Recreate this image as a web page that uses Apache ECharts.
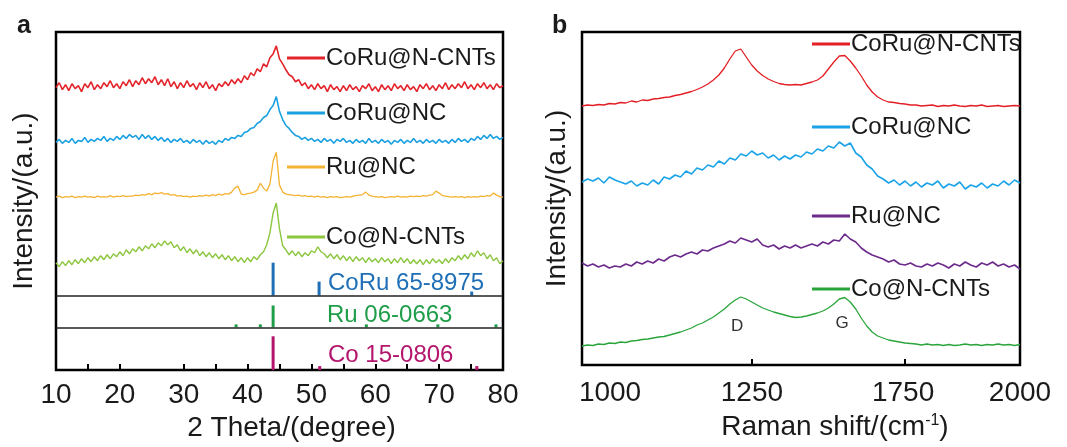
<!DOCTYPE html>
<html>
<head>
<meta charset="utf-8">
<script src="https://cdn.jsdelivr.net/npm/echarts@6/dist/echarts.min.js"></script>
<style>
html,body{margin:0;padding:0;background:#fff;}
#chart{width:1067px;height:447px;}
</style>
</head>
<body>
<div id="chart"></div>
<script>
// ---- panel a : XRD ----
var thetaA = [10,10.5,11,11.5,12,12.5,13,13.5,14,14.5,15,15.5,16,16.5,17,17.5,18,18.5,19,19.5,
	20,20.5,21,21.5,22,22.5,23,23.5,24,24.5,25,25.5,26,26.5,27,27.5,28,28.5,29,29.5,
	30,30.5,31,31.5,32,32.5,33,33.5,34,34.5,35,35.5,36,36.5,37,37.5,38,38.5,39,39.5,
	40,40.5,41,41.5,42,42.5,43,43.5,44,44.5,45,45.5,46,46.5,47,47.5,48,48.5,49,49.5,
	50,50.5,51,51.5,52,52.5,53,53.5,54,54.5,55,55.5,56,56.5,57,57.5,58,58.5,59,59.5,
	60,60.5,61,61.5,62,62.5,63,63.5,64,64.5,65,65.5,66,66.5,67,67.5,68,68.5,69,69.5,
	70,70.5,71,71.5,72,72.5,73,73.5,74,74.5,75,75.5,76,76.5,77,77.5,78,78.5,79,79.5,80];
var xrdCoRuNCNTs = [284,289,282,287,281,288,283,286,280,288, 284,290,282,287,283,289,285,291,284,288,
	283,290,286,292,285,291,287,294,288,293, 289,295,287,292,286,293,285,290,283,289,
	284,291,285,288,282,289,284,290,283,287, 281,288,285,290,286,292,288,293,289,296,
	292,299,296,303,300,308,305,314,318,326, 313,308,302,297,295,290,292,286,289,283,
	287,282,288,283,286,280,287,282,285,280, 286,281,287,282,285,280,286,283,288,281,
	285,280,287,282,286,281,288,283,286,281, 287,282,285,280,287,283,288,282,286,281,
	287,283,289,282,287,283,288,284,290,283, 287,282,288,284,289,283,287,282,288,284, 286];
var xrdCoRuNC = [229,232,228,231,229,233,228,231,230,234, 229,232,230,233,231,235,230,233,231,235,
	232,236,233,237,234,236,232,237,233,236, 232,235,231,234,230,233,229,232,230,233,
	229,231,228,232,229,231,227,231,228,230, 227,231,229,233,231,234,233,236,235,239,
	240,243,244,248,250,254,256,262,266,275, 260,252,246,243,239,236,235,232,234,231,
	233,230,232,229,233,230,232,228,232,230, 233,229,231,228,232,229,231,228,233,229,
	231,228,232,229,231,227,231,229,232,228, 231,229,233,229,231,228,232,229,231,228,
	232,229,231,228,232,229,233,230,232,229, 233,231,235,232,236,233,237,233,235,232, 234];
var xrdRuNC = [174,175,173.5,174.5,174,175,173.5,174.5,174,175, 174,174.5,173.5,175,174,174.5,174,175.5,174,175,
	174.5,175.5,174.5,175,175,176,175.5,176.5,176,177.5, 176.5,178,177.5,178.5,177,177.5,176,176.5,175,175.5,
	174.5,175,174,175,174.5,175.5,175,176,175,176.5, 175.5,177,176,177.5,177,179,183,185,177,176.5,
	177.5,178,179,181,188,183,180,187,210,219, 186,179,177,176.5,176,175.5,176,175,175.5,174.5,
	175,174,175,174,174.5,173.5,174.5,174,174.5,173.5, 174,174.5,174,175,175.5,176,176.5,179,176,175,
	174.5,174,174.5,173.5,174,174.5,174,175,174,174.5, 174,175,174.5,175,174.5,175.5,175,176,176.5,180,
	178,175.5,175,174.5,174,174.5,174,174.5,173.5,174.5, 174,174.5,174,175,174.5,175.5,175,178,176,174.5, 174];
var xrdCoNCNTs = [108,104,109,105,110,106,111,107,112,108, 113,109,114,110,115,111,116,112,117,114,
	119,115,121,117,122,119,124,120,125,122, 127,123,128,125,130,126,129,123,126,120,
	124,118,122,117,121,115,119,114,118,113, 117,112,116,111,115,110,114,109,113,108,
	113,109,114,111,116,119,126,138,158,168, 142,125,121,116,120,115,119,114,118,115,
	120,118,124,119,117,113,117,112,116,111, 115,110,114,109,114,110,113,108,113,109,
	112,108,113,109,112,107,112,108,113,108, 112,107,111,107,111,106,111,107,112,108,
	111,107,112,108,113,110,115,111,116,112, 118,114,120,115,118,112,116,110,113,107, 110];

// 标准卡片 (position, height)
var cardCoRuPos = [44.0, 51.2, 75.1];
var cardCoRuHeight = [33, 14, 4];
var cardRuPos = [38.2, 42.0, 44.0, 58.6, 69.8, 78.9];
var cardRuHeight = [3, 3, 22, 3, 3, 3];
var cardCoPos = [44.0, 51.3, 75.9];
var cardCoHeight = [34, 4, 4];
var cardBase = [75, 43, 0];
var cardNames = ['CoRu 65-8975', 'Ru 06-0663', 'Co 15-0806'];
var tickTheta = [15, 20, 30, 35, 40, 45, 50, 55, 60, 65, 70, 75];

// ---- panel b : Raman ----
var shiftB = [1000,1012.5,1025,1037.5,1050,1062.5,1075,1087.5,1100,1112.5,
	1125,1137.5,1150,1162.5,1175,1187.5,1200,1212.5,1225,1237.5,
	1250,1262.5,1275,1287.5,1300,1312.5,1325,1337.5,1350,1362.5,
	1375,1387.5,1400,1412.5,1425,1437.5,1450,1462.5,1475,1487.5,
	1500,1512.5,1525,1537.5,1550,1562.5,1575,1587.5,1600,1612.5,
	1625,1637.5,1650,1662.5,1675,1687.5,1700,1712.5,1725,1737.5,
	1750,1762.5,1775,1787.5,1800,1812.5,1825,1837.5,1850,1862.5,
	1875,1887.5,1900,1912.5,1925,1937.5,1950,1962.5,1975,1987.5,2000];
var ramanCoRuNCNTs = [259,260,259.5,260.5,260,261.5,261,262.5,262,264,
	263,265,264.5,266,266.5,267.5,268,269.5,270.5,272,
	273.5,275.5,278,281,285,290,297,306,314,316,
	308,300,294,289.5,286,283.5,281.5,280.5,280,280.5,
	280,281.5,283,285,289,296,303,309,309.5,304,
	297,289,280,273,268,265,263,262.5,261.5,261,
	260,260,259,259.5,260,258.5,259.5,259,260,259,
	258.5,259.5,259,260,258.5,259,259.5,258.5,259,259.5, 259];
var ramanCoRuNC = [183,186,184,187,182,188,185,183,181,184,
	179,182,180,185,181,188,186,190,188,194,
	191,197,195,200,198,204,201,207,205,211,
	209,214,210,212,207,210,205,209,206,210,
	208,213,211,216,214,219,217,223,219,222,
	212,208,200,196,189,186,182,185,180,184,
	179,183,178,182,180,184,177,181,179,183,
	176,180,178,182,177,181,179,184,180,185, 182];
var ramanRuNC = [102,99,101,98,100,97,99,98,101,99,
	103,101,104,102,106,104,108,110,108,111,
	113,111,115,114,117,119,121,124,122,127,
	125,123,126,120,118,120,116,119,117,120,
	117,119,121,119,123,121,125,124,131,126,
	123,117,113,110,108,106,103,105,101,100,
	102,99,98,101,99,102,100,97,101,99,
	103,100,98,102,100,103,99,101,98,100, 96];
var ramanCoNCNTs = [19,20,19.5,21,20.5,22,21.5,23,22.5,24,
	24.5,25.5,26,27,28,28.5,30,31.5,33,35,
	37,40,42,45,48,52,56,61,65,68,
	66,63,60,57,55,53,51.5,50,48.5,47.5,
	48,49,50.5,52,54,57,61,66,67.5,63,
	56,47,39,33,29,27,25,24,23,22,
	21.5,21,20,21,20,20.5,19.5,20.5,19.5,20,
	21,20,20.5,19.5,20.5,20,21,20,20.5,19.5, 20.5];
var bandNames = ['D', 'G'];
var bandShift = [1354, 1594];
var bandLabelY = [39, 42];
// 图上刻度标签 (原图刻度文字与位置并不线性对应)
var ramanTickLabels = ['1000', '1250', '1750', '2000'];
var ramanLabelAt = [1064, 1388, 1733, 2000];
var ramanTickAt = [1388, 1737];

var FONT = "'Liberation Sans', Arial, sans-serif";
var TXT = '#1a1a1a';

var chart = echarts.init(document.getElementById('chart'));

/**
 * 合并x和y
 */
function zip(xs, ys) {
	return xs.map(function(x, i) { return [x, ys[i]]; });
}

/**
 * 标准卡片竖线
 */
function stickData(pos, height, base) {
	return pos.map(function(p, i) { return [p, base, base + height[i]]; });
}

function renderStick(params, api) {
	var p0 = api.coord([api.value(0), api.value(1)]);
	var p1 = api.coord([api.value(0), api.value(2)]);
	return {
		type: 'line',
		shape: { x1: p0[0], y1: p0[1], x2: p1[0], y2: p1[1] },
		style: { stroke: api.visual('color'), lineWidth: 3 }
	};
}

function lineSeries(name, grid, xs, ys, color, width) {
	return {
		name: name, type: 'line', xAxisIndex: grid, yAxisIndex: grid,
		data: zip(xs, ys), symbol: 'none', smooth: false,
		lineStyle: { color: color, width: width || 1.3 },
		itemStyle: { color: color }
	};
}

function stickSeries(name, pos, height, base, color, sep) {
	var s = {
		name: name, type: 'custom', xAxisIndex: 0, yAxisIndex: 0,
		renderItem: renderStick, encode: { x: 0, y: [1, 2] },
		itemStyle: { color: color },
		data: stickData(pos, height, base)
	};
	if (sep) {
		s.markLine = {
			silent: true, symbol: 'none', label: { show: false },
			lineStyle: { color: '#222', width: 1.5, type: 'solid' },
			data: [{ yAxis: base }]
		};
	}
	return s;
}

function legendOne(name, color, left, cy) {
	return {
		left: left, top: cy - 13, padding: 0, orient: 'vertical',
		icon: 'rect', itemWidth: 38, itemHeight: 3, selectedMode: false,
		textStyle: { fontSize: 24, fontFamily: FONT, color: TXT, lineHeight: 26, padding: [0, 0, 0, -4] },
		data: [{ name: name, itemStyle: { color: color } }]
	};
}

var colA = ['#e3242b', '#1ba1e2', '#f5b335', '#8cc63f'];
var colB = ['#e31e24', '#1aa3e8', '#6b2a8c', '#2aa53b'];
var colCard = ['#1f6fb6', '#1f9e4a', '#b3156c'];
var names = ['CoRu@N-CNTs', 'CoRu@NC', 'Ru@NC', 'Co@N-CNTs'];

var option = {
	animation: false,
	backgroundColor: '#fff',
	grid: [
		{ left: 56, right: 564, top: 32, bottom: 75, show: true, borderColor: '#000', borderWidth: 2.5 },
		{ left: 582, right: 47, top: 32, bottom: 82, show: true, borderColor: '#000', borderWidth: 2.5 }
	],
	xAxis: [
		{
			gridIndex: 0, type: 'value', min: 10, max: 80, interval: 10,
			axisLine: { show: false }, splitLine: { show: false },
			axisTick: { show: true, inside: true, length: 6, customValues: tickTheta, lineStyle: { color: '#000', width: 2 } },
			axisLabel: { fontSize: 28, fontFamily: FONT, color: TXT, margin: 11 },
			name: '2 Theta/(degree)', nameLocation: 'middle', nameGap: 40,
			nameTextStyle: { fontSize: 28, fontFamily: FONT, color: TXT, padding: [0, 0, 0, 24] }
		},
		{
			gridIndex: 1, type: 'value', min: 1000, max: 2000,
			axisLine: { show: false }, splitLine: { show: false },
			axisTick: { show: true, inside: true, length: 6, customValues: ramanTickAt, lineStyle: { color: '#000', width: 2 } },
			axisLabel: {
				fontSize: 28, fontFamily: FONT, color: TXT, margin: 14, customValues: ramanLabelAt,
				formatter: function(v) { var k = ramanLabelAt.indexOf(v); return k < 0 ? '' : ramanTickLabels[k]; }
			},
			name: 'Raman shift/(cm{sup|-1})', nameLocation: 'middle', nameGap: 48,
			nameTextStyle: {
				fontSize: 28, fontFamily: FONT, color: TXT, padding: [0, 0, 0, 68],
				rich: { sup: { fontSize: 16, fontFamily: FONT, color: TXT, verticalAlign: 'top', padding: [0, 0, 12, 0] } }
			}
		}
	],
	yAxis: [
		{
			gridIndex: 0, type: 'value', min: 0, max: 340,
			axisLine: { show: false }, axisTick: { show: false }, axisLabel: { show: false }, splitLine: { show: false },
			name: 'Intensity/(a.u.)', nameLocation: 'middle', nameGap: 18,
			nameTextStyle: { fontSize: 28, fontFamily: FONT, color: TXT }
		},
		{
			gridIndex: 1, type: 'value', min: 0, max: 333,
			axisLine: { show: false }, axisTick: { show: false }, axisLabel: { show: false }, splitLine: { show: false },
			name: 'Intensity/(a.u.)', nameLocation: 'middle', nameGap: 11,
			nameTextStyle: { fontSize: 28, fontFamily: FONT, color: TXT }
		}
	],
	legend: [
		legendOne(names[0], colA[0], 287, 58),
		legendOne(names[1], colA[1], 287, 113),
		legendOne(names[2], colA[2], 287, 167),
		legendOne(names[3], colA[3], 287, 237),
		legendOne(names[0], colB[0], 812, 44),
		legendOne(names[1], colB[1], 812, 127),
		legendOne(names[2], colB[2], 812, 216),
		legendOne(names[3], colB[3], 812, 289)
	],
	graphic: [
		{ type: 'text', x: 17, y: 26, style: { text: 'a', fontSize: 25, fontWeight: 'bold', fontFamily: FONT, fill: TXT, verticalAlign: 'middle' } },
		{ type: 'text', x: 552, y: 26, style: { text: 'b', fontSize: 25, fontWeight: 'bold', fontFamily: FONT, fill: TXT, verticalAlign: 'middle' } },
		{ type: 'text', x: 328, y: 283, style: { text: cardNames[0], fontSize: 24, fontFamily: FONT, fill: colCard[0], verticalAlign: 'middle' } },
		{ type: 'text', x: 327, y: 315, style: { text: cardNames[1], fontSize: 24, fontFamily: FONT, fill: colCard[1], verticalAlign: 'middle' } },
		{ type: 'text', x: 328, y: 355, style: { text: cardNames[2], fontSize: 24, fontFamily: FONT, fill: colCard[2], verticalAlign: 'middle' } }
	],
	series: [
		lineSeries(names[0], 0, thetaA, xrdCoRuNCNTs, colA[0], 1.6),
		lineSeries(names[1], 0, thetaA, xrdCoRuNC, colA[1], 1.6),
		lineSeries(names[2], 0, thetaA, xrdRuNC, colA[2], 1.3),
		lineSeries(names[3], 0, thetaA, xrdCoNCNTs, colA[3], 1.4),
		stickSeries(cardNames[0], cardCoRuPos, cardCoRuHeight, cardBase[0], colCard[0], true),
		stickSeries(cardNames[1], cardRuPos, cardRuHeight, cardBase[1], colCard[1], true),
		stickSeries(cardNames[2], cardCoPos, cardCoHeight, cardBase[2], colCard[2], false),
		lineSeries(names[0], 1, shiftB, ramanCoRuNCNTs, colB[0], 1.3),
		lineSeries(names[1], 1, shiftB, ramanCoRuNC, colB[1], 1.6),
		lineSeries(names[2], 1, shiftB, ramanRuNC, colB[2], 1.6),
		(function() {
			var s = lineSeries(names[3], 1, shiftB, ramanCoNCNTs, colB[3], 1.3);
			s.markPoint = {
				symbol: 'rect', symbolSize: 1, silent: true,
				itemStyle: { color: 'rgba(0,0,0,0)' },
				label: { show: true, position: 'inside', formatter: function(p) { return p.name; }, fontSize: 17, fontFamily: FONT, color: '#333' },
				data: bandNames.map(function(n, i) { return { name: n, coord: [bandShift[i], bandLabelY[i]] }; })
			};
			return s;
		})()
	]
};

chart.setOption(option);
</script>
</body>
</html>
